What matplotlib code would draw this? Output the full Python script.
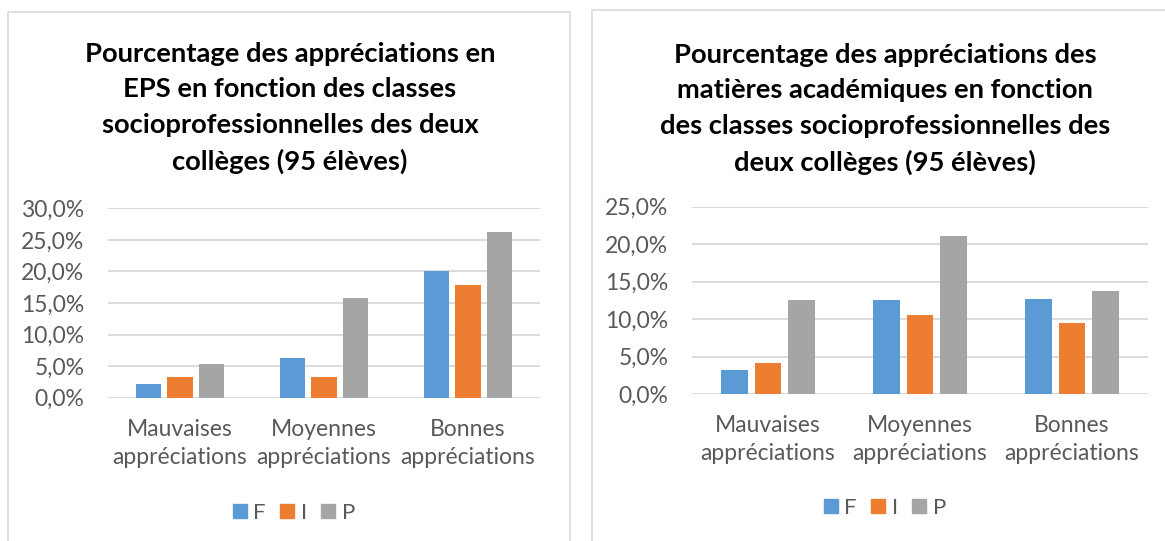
import numpy as np
import matplotlib
matplotlib.use('Agg')
import matplotlib.pyplot as plt
from matplotlib.patches import Rectangle, Patch
from matplotlib.ticker import FuncFormatter, MultipleLocator

## data (percent of 95 pupils)
categories = ['Mauvaises\nappréciations', 'Moyennes\nappréciations', 'Bonnes\nappréciations']
series = ['F', 'I', 'P']
eps_F = [2.1, 6.3, 20.0]
eps_I = [3.2, 3.2, 17.9]
eps_P = [5.3, 15.8, 26.3]
aca_F = [3.2, 12.6, 12.7]
aca_I = [4.2, 10.5, 9.5]
aca_P = [12.6, 21.1, 13.7]

title_eps = ("Pourcentage des appréciations en\nEPS en fonction des classes\n"
             "socioprofessionnelles des deux\ncollèges (95 élèves)")
title_aca = ("Pourcentage des appréciations des\nmatières académiques en fonction\n"
             "des classes socioprofessionnelles des\ndeux collèges (95 élèves)")

colors = ['#5B9BD5', '#ED7D31', '#A5A5A5']
grey_txt = '#595959'
grid_col = '#D9D9D9'

plt.rcParams['font.family'] = ['Lato', 'DejaVu Sans']

W, H = 1165, 541
fig = plt.figure(figsize=(W / 100, H / 100), dpi=100)

def px_axes(x0, y_top, x1, y_bot):
    return fig.add_axes([x0 / W, 1 - y_bot / H, (x1 - x0) / W, (y_bot - y_top) / H])

# panel frames
fig.patches.append(Rectangle((8 / W, -0.1), (570 - 8) / W, 1.1 - 12 / H, transform=fig.transFigure,
                             fill=False, edgecolor=grid_col, lw=1.2))
fig.patches.append(Rectangle((592 / W, -0.1), (1200 - 592) / W, 1.1 - 10 / H, transform=fig.transFigure,
                             fill=False, edgecolor=grid_col, lw=1.2))


def draw(ax, vals, ymax, title, tx, ty, lx, ly):
    x = np.arange(len(categories))
    w = 0.1745
    step = 0.2216
    for i, (v, c) in enumerate(zip(vals, colors)):
        ax.bar(x + (i - 1) * step, v, width=w, color=c, zorder=3)
    ax.set_xlim(-0.5, 2.5)
    ax.set_ylim(0, ymax)
    ax.yaxis.set_major_locator(MultipleLocator(5))
    ax.yaxis.set_major_formatter(FuncFormatter(lambda v, p: f"{v:.1f}%".replace('.', ',')))
    ax.grid(axis='y', color=grid_col, lw=1.3, zorder=0)
    for s in ax.spines.values():
        s.set_visible(False)
    ax.set_xticks(x)
    ax.set_xticklabels(categories, linespacing=1.45)
    ax.tick_params(axis='both', length=0, labelsize=16.5, labelcolor=grey_txt)
    ax.tick_params(axis='y', pad=17)
    ax.tick_params(axis='x', pad=15)
    fig.text(tx / W, 1 - ty / H, title, ha='center', va='center', fontsize=19.7,
             fontweight='bold', linespacing=1.56, color='black')
    handles = [Patch(color=c, label=s) for c, s in zip(colors, series)]
    ax.legend(handles=handles, loc='center', bbox_to_anchor=(lx / W, 1 - ly / H),
              bbox_transform=fig.transFigure, ncol=3, frameon=False, fontsize=16,
              handlelength=0.62, handleheight=0.62, handletextpad=0.3, columnspacing=0.65,
              labelcolor=grey_txt)


ax1 = px_axes(108, 208.3, 540, 397.7)
draw(ax1, [eps_F, eps_I, eps_P], 30, title_eps, 290, 108, 294, 513)

ax2 = px_axes(692, 206.7, 1148, 394)
draw(ax2, [aca_F, aca_I, aca_P], 25, title_aca, 885, 109, 885, 508)

fig.savefig('out.png', dpi=100)
